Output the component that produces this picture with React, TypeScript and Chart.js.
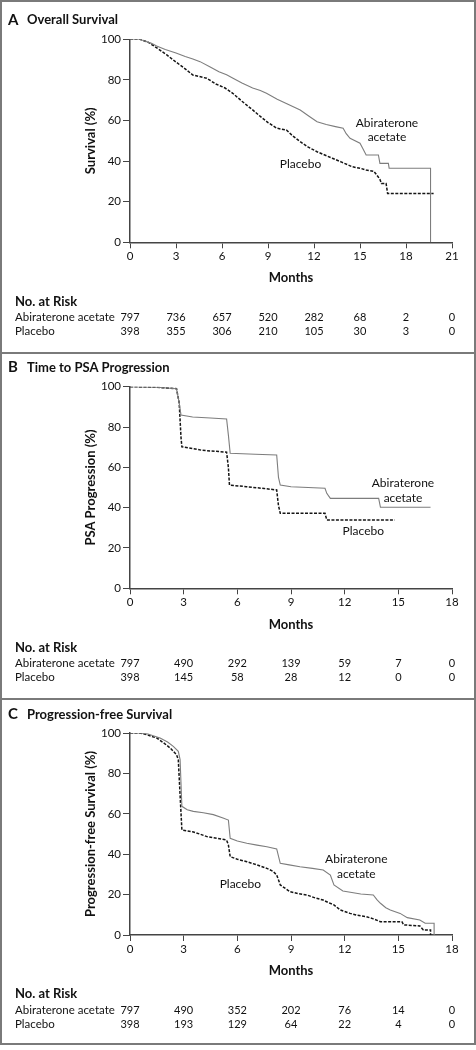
import React, { useEffect, useRef } from "react";
import { Chart, registerables } from "chart.js";

Chart.register(...registerables);

const FONT = 'Lato, "Open Sans", "DejaVu Sans", sans-serif';

// ---------- Panel A: Overall Survival ----------
const osTicks = [0, 3, 6, 9, 12, 15, 18, 21];
const osAbiMonths = [0, 0.65, 1.0, 1.4, 1.74, 2.3, 3.0, 3.6, 4.1, 4.57, 5.2, 5.8, 6.3, 6.72, 7.3, 8.0, 8.5, 8.9, 9.6, 10.3, 11.1, 11.7, 12.2, 12.8, 13.4, 13.9, 14.1, 14.35, 15.0, 15.2, 15.4, 16.2, 16.3, 16.85, 16.9, 19.6, 19.6];
const osAbiValues = [100, 100, 99, 98, 96.7, 95, 93.2, 91.5, 90.3, 89, 86.5, 84, 82.5, 80.8, 78.5, 76, 74.8, 73.4, 70.5, 68, 65.2, 62, 59.4, 58, 57, 56.2, 53.5, 51.2, 48.8, 46, 43, 43, 38.9, 38.9, 36.5, 36.5, 0];
const osPlaMonths = [0, 0.65, 1.2, 1.8, 2.4, 3.0, 3.5, 4.1, 5.0, 5.6, 6.2, 6.7, 7.3, 8.0, 8.5, 9.0, 9.57, 10.2, 10.6, 11.1, 11.6, 12.2, 12.7, 13.2, 13.8, 14.5, 15.0, 15.4, 15.9, 16.1, 16.3, 16.4, 16.7, 16.8, 19.8];
const osPlaValues = [100, 100, 98.5, 95.5, 92.3, 88.8, 86, 82.4, 80.8, 78, 76, 73.4, 69.5, 65.2, 62, 59, 56.2, 55.3, 52.5, 49.6, 47, 44.6, 43, 41.4, 39.5, 37.2, 36.5, 35.6, 35, 33.1, 31, 29, 29, 24.1, 24.1];
const osRiskAbi = [797, 736, 657, 520, 282, 68, 2, 0];
const osRiskPla = [398, 355, 306, 210, 105, 30, 3, 0];

// ---------- Panel B: Time to PSA Progression ----------
const psaTicks = [0, 3, 6, 9, 12, 15, 18];
const psaAbiMonths = [0, 1.5, 2.6, 2.75, 2.85, 3.5, 4.5, 5.4, 5.5, 5.6, 7.0, 8.2, 8.3, 8.4, 9.0, 10.9, 11.0, 11.2, 13.9, 14.0, 16.8];
const psaAbiValues = [100, 99.7, 99, 92, 86, 85, 84.5, 84, 76, 67, 66.5, 66.1, 55, 51.2, 50.4, 49.6, 47.1, 44.6, 44.6, 40.2, 40.2];
const psaPlaMonths = [0, 1.5, 2.6, 2.75, 2.85, 2.9, 4.0, 5.4, 5.5, 5.56, 6.5, 7.5, 8.2, 8.3, 8.4, 10.9, 11.0, 14.8];
const psaPlaValues = [100, 99.7, 99, 92, 75, 70.2, 68.5, 67.5, 60, 51.2, 50.4, 49.5, 48.8, 41, 37.2, 37.2, 33.9, 33.9];
const psaRiskAbi = [797, 490, 292, 139, 59, 7, 0];
const psaRiskPla = [398, 145, 58, 28, 12, 0, 0];

// ---------- Panel C: Progression-free Survival ----------
const pfsTicks = [0, 3, 6, 9, 12, 15, 18];
const pfsAbiMonths = [0, 0.56, 1.0, 1.68, 2.1, 2.42, 2.7, 2.8, 2.9, 3.2, 3.54, 4.1, 4.66, 5.2, 5.5, 5.6, 6.0, 6.53, 7.1, 7.65, 8.2, 8.4, 8.9, 9.5, 10.2, 10.8, 11.2, 11.4, 11.9, 12.4, 12.9, 13.6, 13.8, 14.0, 14.3, 14.55, 15.1, 15.5, 16.2, 16.5, 17.0, 17.0];
const pfsAbiValues = [100, 100, 99.5, 97.5, 95.5, 93.4, 90.9, 86.8, 63.7, 62, 61.2, 60.5, 59.6, 57.9, 56.9, 47.9, 46.5, 45.4, 44.5, 43.7, 42.6, 35.5, 34.7, 33.8, 33, 32.2, 29.7, 24.8, 21.8, 21, 20.3, 19.8, 17.5, 15.7, 13.5, 12.4, 10.7, 8.6, 7.4, 5.8, 5.8, 0];
const pfsPlaMonths = [0, 0.56, 1.0, 1.5, 1.9, 2.24, 2.6, 2.7, 2.9, 3.5, 3.9, 4.3, 4.9, 5.4, 5.5, 5.6, 6.0, 6.53, 7.1, 7.65, 8.0, 8.2, 8.4, 8.95, 9.4, 9.9, 10.3, 10.8, 11.1, 11.4, 11.75, 12.3, 12.7, 13.2, 13.6, 14.0, 15.2, 15.3, 16.2, 16.4, 16.8, 16.8];
const pfsPlaValues = [100, 100, 99, 97.5, 95, 92.6, 89.3, 86.8, 52, 51.1, 50, 48.7, 47.8, 47, 44.6, 38.8, 37.5, 36.3, 34.7, 33, 31.5, 29.7, 24.8, 21.4, 20.5, 19.8, 18.5, 17.3, 16, 14.9, 12.4, 10.7, 9.8, 9.1, 8, 6.6, 6.6, 5, 4.5, 2.5, 2.5, 0];
const pfsRiskAbi = [797, 490, 352, 202, 76, 14, 0];
const pfsRiskPla = [398, 193, 129, 64, 22, 4, 0];

const riskLabels = ["Abiraterone acetate", "Placebo"];
const seriesNames = ["Abiraterone acetate", "Placebo"];

type PanelCfg = {
  letter: string;
  title: string;
  yTitle: string;
  ticks: number[];
  abiX: number[];
  abiY: number[];
  plaX: number[];
  plaY: number[];
  riskAbi: number[];
  riskPla: number[];
  top: number;
  height: number;
  padTop: number;
  padBottom: number;
  titleY: number;
  monthsY: number;
  riskHeadY: number;
  riskRow1Y: number;
  riskRow2Y: number;
  abiLabel: [number, number];
  plaLabel: [number, number];
};

const panels: PanelCfg[] = [
  {
    letter: "A", title: "Overall Survival", yTitle: "Survival (%)", ticks: osTicks,
    abiX: osAbiMonths, abiY: osAbiValues, plaX: osPlaMonths, plaY: osPlaValues,
    riskAbi: osRiskAbi, riskPla: osRiskPla,
    top: 0, height: 352, padTop: 39.3, padBottom: 89.7,
    titleY: 20, monthsY: 278, riskHeadY: 301.7, riskRow1Y: 317.7, riskRow2Y: 331,
    abiLabel: [16.76, 58.8], plaLabel: [11.12, 38.6],
  },
  {
    letter: "B", title: "Time to PSA Progression", yTitle: "PSA Progression (%)", ticks: psaTicks,
    abiX: psaAbiMonths, abiY: psaAbiValues, plaX: psaPlaMonths, plaY: psaPlaValues,
    riskAbi: psaRiskAbi, riskPla: psaRiskPla,
    top: 354, height: 344, padTop: 32.7, padBottom: 89.7,
    titleY: 13.5, monthsY: 271, riskHeadY: 294.3, riskRow1Y: 309.3, riskRow2Y: 323.3,
    abiLabel: [15.26, 52.1], plaLabel: [13.04, 28.4],
  },
  {
    letter: "C", title: "Progression-free Survival", yTitle: "Progression-free Survival (%)", ticks: pfsTicks,
    abiX: pfsAbiMonths, abiY: pfsAbiValues, plaX: pfsPlaMonths, plaY: pfsPlaValues,
    riskAbi: pfsRiskAbi, riskPla: pfsRiskPla,
    top: 700, height: 345, padTop: 33, padBottom: 90,
    titleY: 14.5, monthsY: 271, riskHeadY: 294, riskRow1Y: 310, riskRow2Y: 324,
    abiLabel: [12.65, 37.5], plaLabel: [6.17, 25.1],
  },
];

const overlayPlugin = {
  id: "kmOverlay",
  afterDraw(chart: any, _args: any, opts: any) {
    const p: PanelCfg = opts.panel;
    if (!p) return;
    const ctx = chart.ctx;
    const xs = chart.scales.x;
    const ys = chart.scales.y;
    const ca = chart.chartArea;
    ctx.save();
    ctx.fillStyle = "#111";
    ctx.textBaseline = "middle";
    // panel title
    ctx.textAlign = "left";
    ctx.font = `bold 15px ${FONT}`;
    ctx.fillText(p.letter, 8, p.titleY);
    ctx.font = `bold 13px ${FONT}`;
    ctx.fillText(p.title, 27, p.titleY);
    // y title
    ctx.save();
    ctx.translate(91, (ca.top + ca.bottom) / 2);
    ctx.rotate(-Math.PI / 2);
    ctx.textAlign = "center";
    ctx.font = `bold 13px ${FONT}`;
    ctx.fillText(p.yTitle, 0, 0);
    ctx.restore();
    // x title
    ctx.textAlign = "center";
    ctx.font = `bold 13px ${FONT}`;
    ctx.fillText("Months", (ca.left + ca.right) / 2, p.monthsY);
    // curve labels
    ctx.font = `12px ${FONT}`;
    const ax = xs.getPixelForValue(p.abiLabel[0]);
    const ay = ys.getPixelForValue(p.abiLabel[1]);
    ctx.fillText("Abiraterone", ax, ay);
    ctx.fillText("acetate", ax, ay + 14.5);
    ctx.fillText(seriesNames[1], xs.getPixelForValue(p.plaLabel[0]), ys.getPixelForValue(p.plaLabel[1]));
    // risk table
    ctx.textAlign = "left";
    ctx.font = `bold 13px ${FONT}`;
    ctx.fillText("No. at Risk", 15, p.riskHeadY);
    ctx.font = `11.5px ${FONT}`;
    ctx.fillText(riskLabels[0], 15, p.riskRow1Y);
    ctx.fillText(riskLabels[1], 15, p.riskRow2Y);
    ctx.textAlign = "center";
    ctx.font = `11px ${FONT}`;
    p.ticks.forEach((t, i) => {
      const x = xs.getPixelForValue(t);
      ctx.fillText(String(p.riskAbi[i]), x, p.riskRow1Y);
      ctx.fillText(String(p.riskPla[i]), x, p.riskRow2Y);
    });
    ctx.restore();
  },
};

function toPoints(xs: number[], ys: number[]) {
  return xs.map((x, i) => ({ x, y: ys[i] }));
}

function Panel({ cfg }: { cfg: PanelCfg }) {
  const ref = useRef<HTMLCanvasElement | null>(null);
  useEffect(() => {
    if (!ref.current) return;
    const maxX = cfg.ticks[cfg.ticks.length - 1];
    const chart = new Chart(ref.current, {
      type: "line",
      data: {
        datasets: [
          {
            label: seriesNames[0],
            data: toPoints(cfg.abiX, cfg.abiY),
            borderColor: "#7d7d7d",
            borderWidth: 1.1,
            pointRadius: 0,
            tension: 0,
            fill: false,
          },
          {
            label: seriesNames[1],
            data: toPoints(cfg.plaX, cfg.plaY),
            borderColor: "#151515",
            borderWidth: 1.5,
            borderDash: [3, 1.5],
            pointRadius: 0,
            tension: 0,
            fill: false,
          },
        ],
      },
      options: {
        animation: false,
        responsive: false,
        maintainAspectRatio: false,
        layout: { padding: { left: 70, right: 24, top: cfg.padTop, bottom: cfg.padBottom } },
        plugins: {
          legend: { display: false },
          tooltip: { enabled: false },
          kmOverlay: { panel: cfg },
        } as any,
        scales: {
          x: {
            type: "linear",
            min: 0,
            max: maxX,
            afterFit: (s: any) => { s.height = 20; },
            afterBuildTicks: (s: any) => { s.ticks = cfg.ticks.map((v) => ({ value: v })); },
            ticks: { color: "#111", font: { family: FONT, size: 11.5 }, padding: 1, maxRotation: 0, autoSkip: false },
            grid: { display: true, drawOnChartArea: false, drawTicks: true, tickLength: 6, color: "#444", lineWidth: 1 },
            border: { display: true, color: "#444", width: 1.5 },
          },
          y: {
            type: "linear",
            min: 0,
            max: 100,
            afterFit: (s: any) => { s.width = 60; },
            ticks: { stepSize: 20, color: "#111", font: { family: FONT, size: 11.5 }, padding: 2 },
            grid: { display: true, drawOnChartArea: false, drawTicks: true, tickLength: 7, color: "#444", lineWidth: 1 },
            border: { display: true, color: "#444", width: 1.5 },
          },
        },
      },
      plugins: [overlayPlugin],
    } as any);
    return () => chart.destroy();
  }, [cfg]);
  return (
    <canvas
      ref={ref}
      width={476}
      height={cfg.height}
      style={{ position: "absolute", left: 0, top: cfg.top, width: 476, height: cfg.height }}
    />
  );
}

export default function App() {
  return (
    <div style={{ position: "absolute", left: 0, top: 0, width: 476, height: 1050, background: "#fff" }}>
      {panels.map((p) => (
        <Panel key={p.letter} cfg={p} />
      ))}
      <div style={{ position: "absolute", left: 0, top: 0, width: 476, height: 1045, boxSizing: "border-box", border: "2px solid #7a7a7a", pointerEvents: "none" }} />
      <div style={{ position: "absolute", left: 0, top: 352, width: 476, height: 2, background: "#7a7a7a" }} />
      <div style={{ position: "absolute", left: 0, top: 698, width: 476, height: 2, background: "#7a7a7a" }} />
    </div>
  );
}
